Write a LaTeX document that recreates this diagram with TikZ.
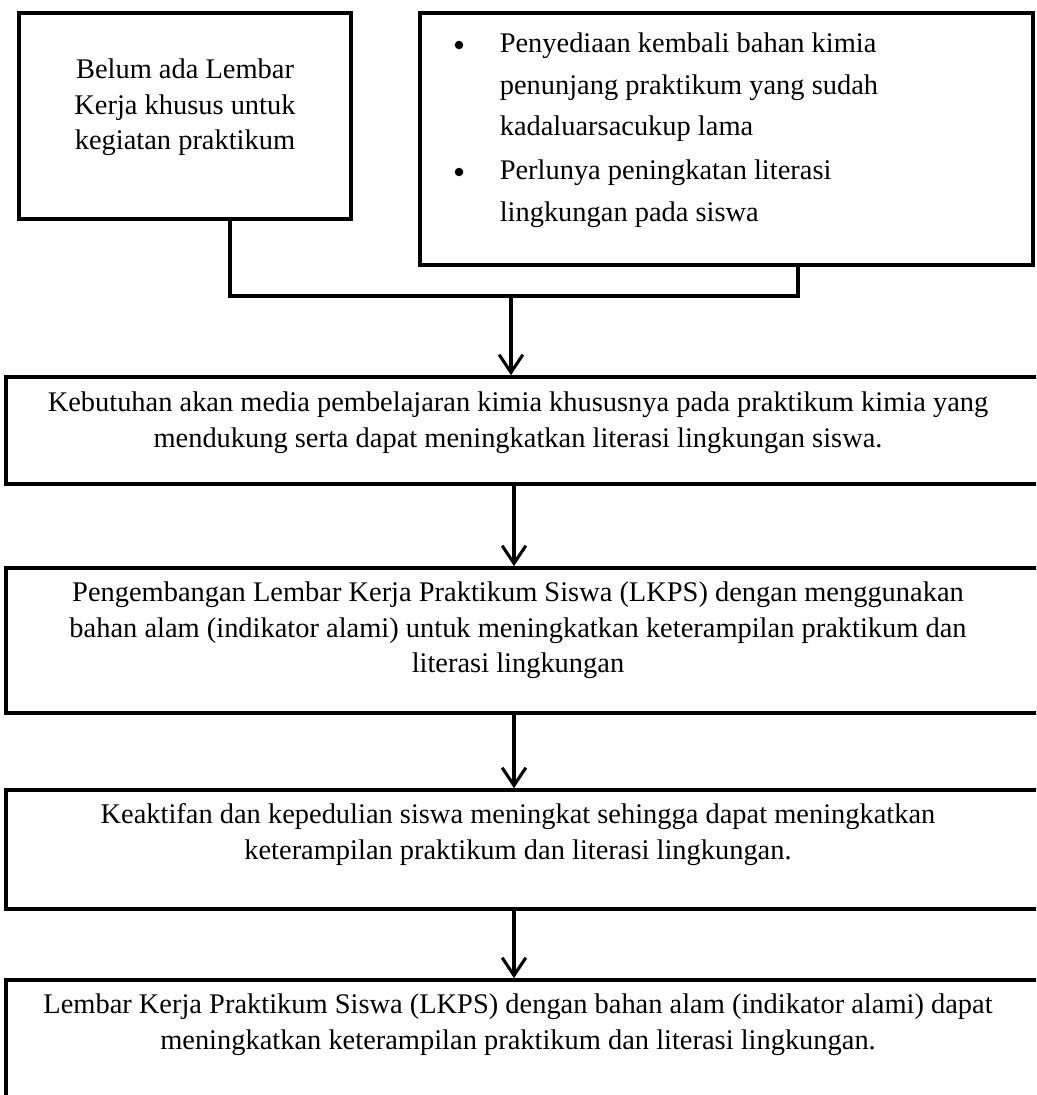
\documentclass[tikz,border=0pt]{standalone}
\usepackage{fontspec}
\setmainfont{Liberation Serif}
\usetikzlibrary{arrows.meta, calc}

\begin{document}
\begin{tikzpicture}[x=0.422pt,y=-0.422pt,line width=1.5pt,
  >={Straight Barb[length=7.5pt,width=10pt,line width=1.3pt]},
  box/.style={draw, rectangle, inner sep=0pt},
  dot/.style={circle, fill, inner sep=0pt, minimum size=3.6pt},
  txt/.style={inner sep=0pt, align=center, anchor=north, font=\fontsize{12}{15}\selectfont},
  itemtxt/.style={inner sep=0pt, align=left, anchor=north west, font=\fontsize{12}{17.6}\selectfont}]
  \useasboundingbox (0,0) rectangle (1036,1095);
  \clip (0,0) rectangle (1036,1095);

  % Define nodes
  \node[box, minimum width=332*0.422pt, minimum height=206*0.422pt] (A) at (185,116) {};
  \node[box, minimum width=613*0.422pt, minimum height=252*0.422pt] (B) at (726.5,139) {};
  \node[box, minimum width=1060*0.422pt, minimum height=107*0.422pt] (C) at (536,430.5) {};
  \node[box, minimum width=1060*0.422pt, minimum height=145*0.422pt] (D) at (536,640.5) {};
  \node[box, minimum width=1060*0.422pt, minimum height=119*0.422pt] (E) at (536,849.5) {};
  \node[box, minimum width=1060*0.422pt, minimum height=150*0.422pt] (F) at (536,1055) {};

  % Texts
  \node[txt] (tA) at (185,57) {Belum ada Lembar\\ Kerja khusus untuk\\ kegiatan praktikum};
  \node[dot] (b1) at (459,45) {};
  \node[dot] (b2) at (459,172) {};
  \node[itemtxt] (tB1) at (498,31) {Penyediaan kembali bahan kimia\\ penunjang praktikum yang sudah\\ kadaluarsacukup lama};
  \node[itemtxt] (tB2) at (498,158) {Perlunya peningkatan literasi\\ lingkungan pada siswa};
  \node[txt] (tC) at (518,390) {Kebutuhan akan media pembelajaran kimia khususnya pada praktikum kimia yang\\ mendukung serta dapat meningkatkan literasi lingkungan siswa.};
  \node[txt] (tD) at (518,580) {Pengembangan Lembar Kerja Praktikum Siswa (LKPS) dengan menggunakan\\ bahan alam (indikator alami) untuk meningkatkan keterampilan praktikum dan\\ literasi lingkungan};
  \node[txt] (tE) at (518,802) {Keaktifan dan kepedulian siswa meningkat sehingga dapat meningkatkan\\ keterampilan praktikum dan literasi lingkungan.};
  \node[txt] (tF) at (518,992) {Lembar Kerja Praktikum Siswa (LKPS) dengan bahan alam (indikator alami) dapat\\ meningkatkan keterampilan praktikum dan literasi lingkungan.};

  % Junction points
  \coordinate (jl) at (230,296);
  \coordinate (jm) at (511,296);
  \coordinate (jr) at (798,296);
  \coordinate (ax) at (514,0);

  % Draw edges
  \draw (jl |- A.south) -- (jl) -- (jr) -- (jr |- B.south);
  \draw[->] (jm) -- (jm |- C.north);
  \draw[->] (ax |- C.south) -- (ax |- D.north);
  \draw[->] (ax |- D.south) -- (ax |- E.north);
  \draw[->] (ax |- E.south) -- (ax |- F.north);
\end{tikzpicture}
\end{document}
